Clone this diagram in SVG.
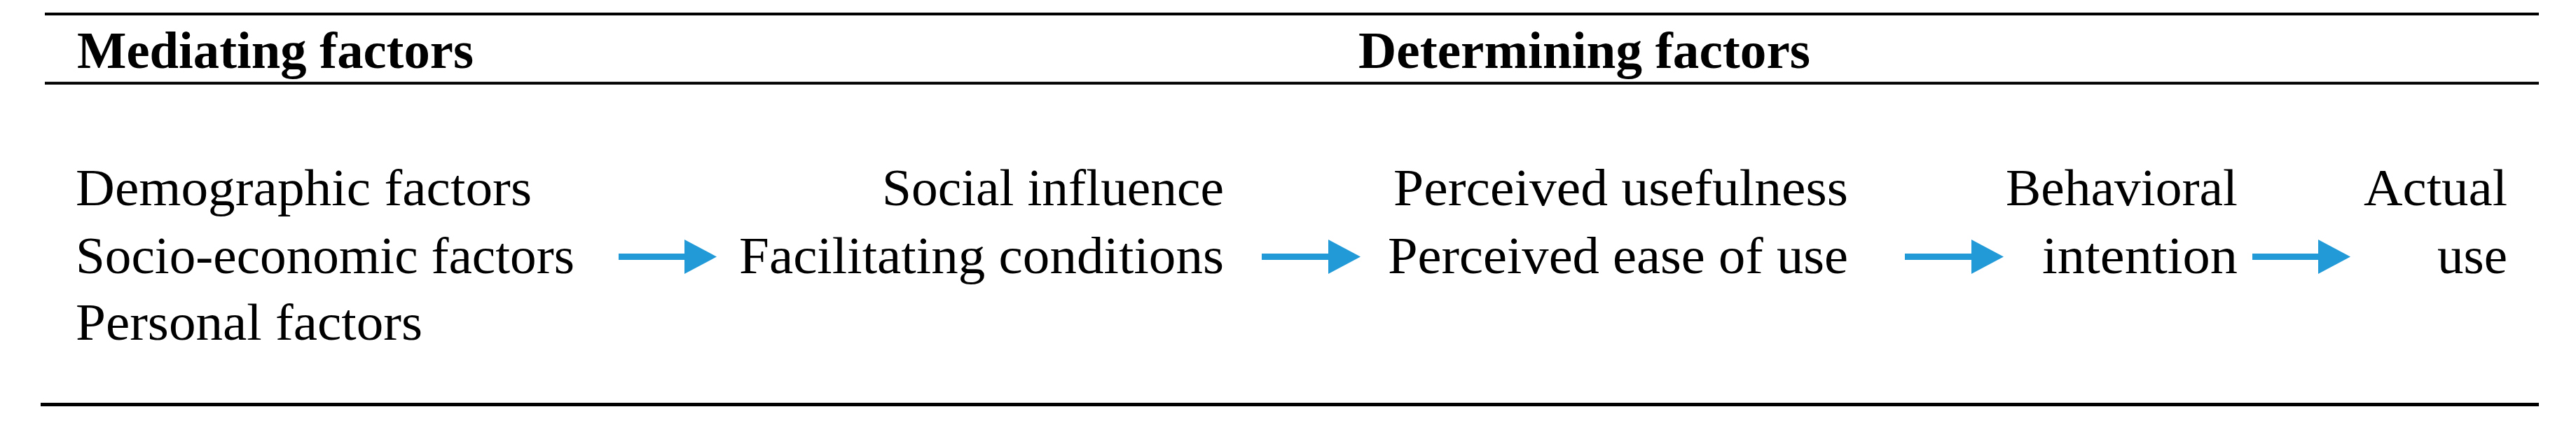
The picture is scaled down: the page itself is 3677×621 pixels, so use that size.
<svg xmlns="http://www.w3.org/2000/svg" width="3677" height="621" viewBox="0 0 3677 621">
<style>
.h{font-family:"Liberation Serif","Times New Roman",serif;font-size:75px;font-weight:bold;fill:#000}
.t{font-family:"Liberation Serif","Times New Roman",serif;font-size:75px;fill:#000}
.rule{stroke:#000}
.arr{stroke:#229AD7;stroke-width:9;fill:none;marker-end:url(#ah)}
</style>
<defs>
<marker id="ah" markerUnits="userSpaceOnUse" markerWidth="47" markerHeight="50" refX="0" refY="24.5" orient="auto" viewBox="0 0 47 50">
<path d="M0,0 L46,24.5 L0,49 z" fill="#229AD7"/>
</marker>
</defs>
<rect width="3677" height="621" fill="#fff"/>
<g id="rules">
<line class="rule" x1="64" y1="20" x2="3624" y2="20" stroke-width="4"/>
<line class="rule" x1="64" y1="118.7" x2="3624" y2="118.7" stroke-width="4"/>
<line class="rule" x1="58" y1="577.5" x2="3624" y2="577.5" stroke-width="5"/>
</g>
<g id="header-mediating"><text class="h" x="110" y="97" textLength="566" lengthAdjust="spacingAndGlyphs">Mediating factors</text></g>
<g id="header-determining"><text class="h" x="1939" y="97" textLength="645" lengthAdjust="spacingAndGlyphs">Determining factors</text></g>
<g id="node-mediating">
<text class="t" x="108" y="293" textLength="651" lengthAdjust="spacingAndGlyphs">Demographic factors</text>
<text class="t" x="108" y="390" textLength="712" lengthAdjust="spacingAndGlyphs">Socio-economic factors</text>
<text class="t" x="108" y="485" textLength="495" lengthAdjust="spacingAndGlyphs">Personal factors</text>
</g>
<g id="node-social">
<text class="t" x="1259" y="293" textLength="488" lengthAdjust="spacingAndGlyphs">Social influence</text>
<text class="t" x="1055" y="390" textLength="692" lengthAdjust="spacingAndGlyphs">Facilitating conditions</text>
</g>
<g id="node-perceived">
<text class="t" x="1989" y="293" textLength="649" lengthAdjust="spacingAndGlyphs">Perceived usefulness</text>
<text class="t" x="1981" y="390" textLength="657" lengthAdjust="spacingAndGlyphs">Perceived ease of use</text>
</g>
<g id="node-intention">
<text class="t" x="2863" y="293" textLength="331" lengthAdjust="spacingAndGlyphs">Behavioral</text>
<text class="t" x="2915" y="390" textLength="279" lengthAdjust="spacingAndGlyphs">intention</text>
</g>
<g id="node-use">
<text class="t" x="3374" y="293" textLength="205" lengthAdjust="spacingAndGlyphs">Actual</text>
<text class="t" x="3479" y="390" textLength="100" lengthAdjust="spacingAndGlyphs">use</text>
</g>
<g id="connectors">
<line class="arr" x1="883" y1="366.5" x2="977" y2="366.5"/>
<line class="arr" x1="1801" y1="366.5" x2="1896" y2="366.5"/>
<line class="arr" x1="2719" y1="366.5" x2="2814" y2="366.5"/>
<line class="arr" x1="3215" y1="366.5" x2="3309" y2="366.5"/>
</g>
</svg>
